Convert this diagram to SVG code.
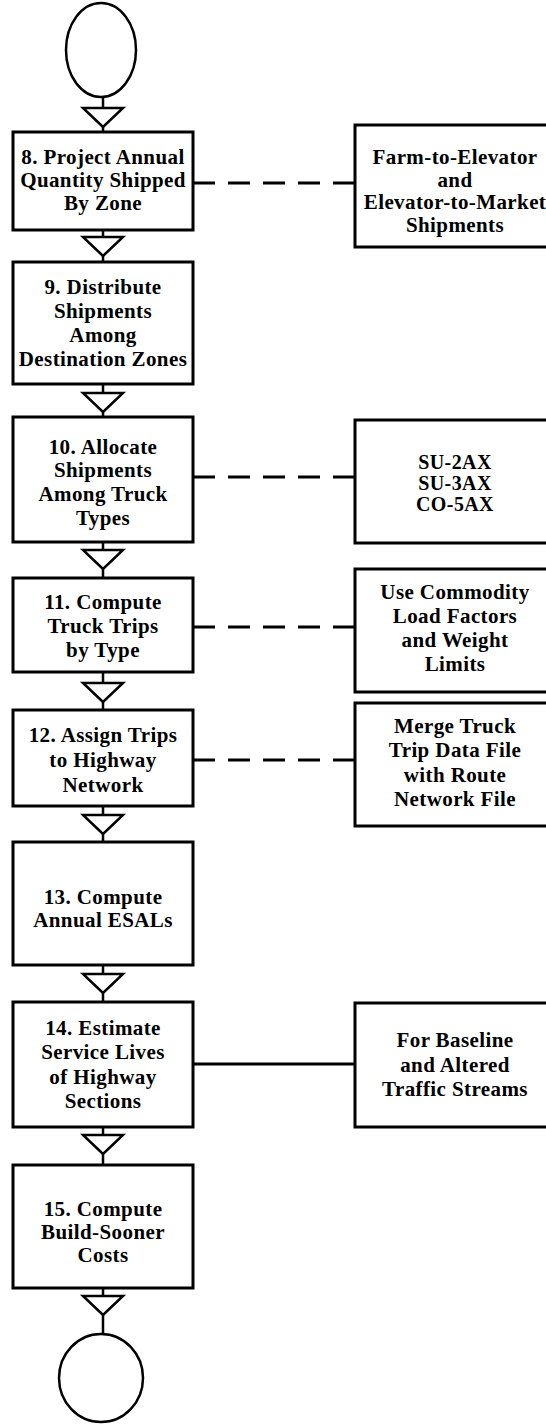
<svg xmlns="http://www.w3.org/2000/svg" width="546" height="1424" viewBox="0 0 546 1424">
<style>
.box{fill:#fff;stroke:#000;stroke-width:3}
.term{fill:#fff;stroke:#000;stroke-width:2.5}
.t{font-family:"Liberation Serif","Times New Roman",serif;font-weight:bold;font-size:21px;letter-spacing:0.4px;text-anchor:middle;fill:#000}
.s{font-size:20px}
.v{stroke:#000;stroke-width:2.5;fill:none}
.h{stroke:#000;stroke-width:3;fill:none}
.dash{stroke-dasharray:22 13}
.tri{fill:#fff;stroke:#000;stroke-width:2.5;stroke-linejoin:miter}
</style>
<defs>
<polygon id="tri" class="tri" points="-20,0 20,0 0,19"/>
</defs>
<rect width="546" height="1424" fill="#fff"/>

<g id="connectors">
<line class="v" x1="103" y1="97" x2="103" y2="132"/>
<line class="v" x1="103" y1="230" x2="103" y2="262"/>
<line class="v" x1="103" y1="384" x2="103" y2="417"/>
<line class="v" x1="103" y1="542" x2="103" y2="578"/>
<line class="v" x1="103" y1="672" x2="103" y2="710"/>
<line class="v" x1="103" y1="806" x2="103" y2="842"/>
<line class="v" x1="103" y1="965" x2="103" y2="1002"/>
<line class="v" x1="103" y1="1127" x2="103" y2="1165"/>
<line class="v" x1="103" y1="1288" x2="103" y2="1333"/>
<use href="#tri" x="103" y="108"/>
<use href="#tri" x="103" y="237"/>
<use href="#tri" x="103" y="393"/>
<use href="#tri" x="103" y="550"/>
<use href="#tri" x="103" y="683"/>
<use href="#tri" x="103" y="815"/>
<use href="#tri" x="103" y="974"/>
<use href="#tri" x="103" y="1135"/>
<use href="#tri" x="103" y="1296"/>
<line class="h dash" x1="193" y1="183" x2="355" y2="183"/>
<line class="h dash" x1="193" y1="477" x2="355" y2="477"/>
<line class="h dash" x1="193" y1="627" x2="355" y2="627"/>
<line class="h dash" x1="193" y1="760" x2="355" y2="760"/>
<line class="h" x1="193" y1="1064" x2="355" y2="1064"/>
</g>

<g id="start"><ellipse class="term" cx="101" cy="50" rx="35" ry="47"/></g>

<g id="n8">
<rect class="box" x="13" y="132" width="180" height="98"/>
<text class="t" x="103" y="164">8. Project Annual</text>
<text class="t" x="103" y="187">Quantity Shipped</text>
<text class="t" x="103" y="210">By Zone</text>
</g>
<g id="note8">
<rect class="box" x="355" y="125" width="200" height="122"/>
<text class="t" x="455" y="164">Farm-to-Elevator</text>
<text class="t" x="455" y="187">and</text>
<text class="t" x="455" y="209">Elevator-to-Market</text>
<text class="t" x="455" y="232">Shipments</text>
</g>

<g id="n9">
<rect class="box" x="13" y="262" width="180" height="122"/>
<text class="t" x="103" y="294">9. Distribute</text>
<text class="t" x="103" y="318">Shipments</text>
<text class="t" x="103" y="342">Among</text>
<text class="t" x="103" y="366">Destination Zones</text>
</g>

<g id="n10">
<rect class="box" x="13" y="417" width="180" height="125"/>
<text class="t" x="103" y="454">10. Allocate</text>
<text class="t" x="103" y="477">Shipments</text>
<text class="t" x="103" y="501">Among Truck</text>
<text class="t" x="103" y="525">Types</text>
</g>
<g id="note10">
<rect class="box" x="355" y="420" width="200" height="123"/>
<text class="t s" x="455" y="469">SU-2AX</text>
<text class="t s" x="455" y="490">SU-3AX</text>
<text class="t s" x="455" y="511">CO-5AX</text>
</g>

<g id="n11">
<rect class="box" x="13" y="578" width="180" height="94"/>
<text class="t" x="103" y="609">11. Compute</text>
<text class="t" x="103" y="633">Truck Trips</text>
<text class="t" x="103" y="657">by Type</text>
</g>
<g id="note11">
<rect class="box" x="355" y="569" width="200" height="123"/>
<text class="t" x="455" y="599">Use Commodity</text>
<text class="t" x="455" y="623">Load Factors</text>
<text class="t" x="455" y="647">and Weight</text>
<text class="t" x="455" y="671">Limits</text>
</g>

<g id="n12">
<rect class="box" x="13" y="710" width="180" height="96"/>
<text class="t" x="103" y="742">12. Assign Trips</text>
<text class="t" x="103" y="767">to Highway</text>
<text class="t" x="103" y="792">Network</text>
</g>
<g id="note12">
<rect class="box" x="355" y="703" width="200" height="123"/>
<text class="t" x="455" y="733">Merge Truck</text>
<text class="t" x="455" y="757">Trip Data File</text>
<text class="t" x="455" y="782">with Route</text>
<text class="t" x="455" y="806">Network File</text>
</g>

<g id="n13">
<rect class="box" x="13" y="842" width="180" height="123"/>
<text class="t" x="103" y="904">13. Compute</text>
<text class="t" x="103" y="927">Annual ESALs</text>
</g>

<g id="n14">
<rect class="box" x="13" y="1002" width="180" height="125"/>
<text class="t" x="103" y="1035">14. Estimate</text>
<text class="t" x="103" y="1059">Service Lives</text>
<text class="t" x="103" y="1084">of Highway</text>
<text class="t" x="103" y="1108">Sections</text>
</g>
<g id="note14">
<rect class="box" x="355" y="1003" width="200" height="124"/>
<text class="t" x="455" y="1047">For Baseline</text>
<text class="t" x="455" y="1072">and Altered</text>
<text class="t" x="455" y="1096">Traffic Streams</text>
</g>

<g id="n15">
<rect class="box" x="13" y="1165" width="180" height="123"/>
<text class="t" x="103" y="1216">15. Compute</text>
<text class="t" x="103" y="1239">Build-Sooner</text>
<text class="t" x="103" y="1262">Costs</text>
</g>

<g id="end"><ellipse class="term" cx="101" cy="1378" rx="42" ry="44"/></g>
</svg>
